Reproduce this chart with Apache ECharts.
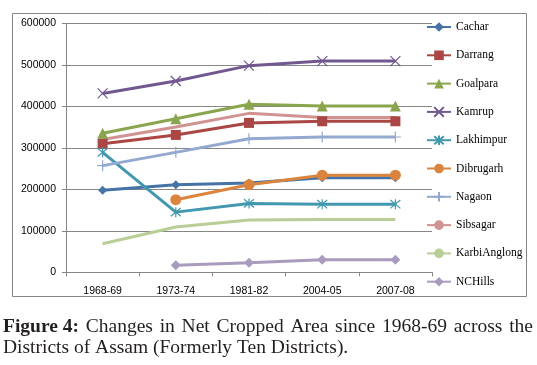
<!DOCTYPE html>
<html>
<head>
<meta charset="utf-8">
<script src="https://cdn.jsdelivr.net/npm/echarts@6/dist/echarts.min.js"></script>
<style>
html,body{margin:0;padding:0;background:#fff;}
#chart{width:537px;height:365px;}
</style>
</head>
<body>
<div id="chart"></div>
<script>
// ---- Data ----
var categories = ['1968-69', '1973-74', '1981-82', '2004-05', '2007-08'];
var yTicks = [0, 100000, 200000, 300000, 400000, 500000, 600000];

var cachar       = [198000, 211000, 215000, 228000, 228000];
var darrang      = [310000, 331000, 360000, 364000, 364000];
var goalpara     = [335000, 370000, 405000, 401000, 401000];
var kamrup       = [431000, 461000, 498000, 509000, 509000];
var lakhimpur    = [289000, 145000, 166000, 164000, 164000];
var dibrugarh    = [null, 175000, 211000, 234000, 234000];
var nagaon       = [257000, 289000, 322000, 326000, 326000];
var sibsagar     = [320000, 350000, 383000, 373000, 373000];
var karbiAnglong = [69000, 109000, 126000, 127000, 127000];
var ncHills      = [null, 17000, 23000, 30000, 30000];

var seriesNames = ['Cachar', 'Darrang', 'Goalpara', 'Kamrup', 'Lakhimpur', 'Dibrugarh', 'Nagaon', 'Sibsagar', 'KarbiAnglong', 'NCHills'];
var seriesData = [cachar, darrang, goalpara, kamrup, lakhimpur, dibrugarh, nagaon, sibsagar, karbiAnglong, ncHills];

var captionLine1 = ['Figure 4:', 'Changes', 'in', 'Net', 'Cropped', 'Area', 'since', '1968-69', 'across', 'the'];
var captionLine2 = 'Districts of Assam (Formerly Ten Districts).';

// ---- Styles ----
var colors = ['#4572A7', '#AA4643', '#89A54E', '#71588F', '#4198AF', '#DB843D', '#93A9CF', '#D19392', '#B9CD96', '#A99BBD'];
var PATH_X = 'path://M0 0L10 10M10 0L0 10';
var PATH_AST = 'path://M0 0L10 10M10 0L0 10M5 -1L5 11';
var PATH_PLUS = 'path://M5 0L5 10M0 5L10 5';
var symbols = [
  {symbol: 'diamond', size: 9},
  {symbol: 'rect', size: 10},
  {symbol: 'triangle', size: 11},
  {symbol: PATH_X, size: 10, stroke: true},
  {symbol: PATH_AST, size: 10, stroke: true},
  {symbol: 'circle', size: 11},
  {symbol: PATH_PLUS, size: 11, stroke: true},
  {symbol: 'none', size: 0},
  {symbol: 'none', size: 0},
  {symbol: 'diamond', size: 10}
];

var series = seriesNames.map(function (name, i) {
  var s = symbols[i];
  return {
    name: name,
    type: 'line',
    data: seriesData[i],
    symbol: s.symbol,
    symbolSize: s.size,
    showSymbol: s.symbol !== 'none',
    connectNulls: false,
    lineStyle: {color: colors[i], width: 3},
    itemStyle: s.stroke
      ? {color: colors[i], borderColor: colors[i], borderWidth: 1.2}
      : {color: colors[i], borderWidth: 0},
    emphasis: {disabled: true}
  };
});

// ---- Caption layout (justified first line) ----
var capFontSize = 19.5;
var capFamily = 'Liberation Serif';
var ctx = document.createElement('canvas').getContext('2d');
function fontStr(bold) {
  return (bold ? 'bold ' : '') + capFontSize + 'px "' + capFamily + '"';
}
function measure(text, bold) {
  ctx.font = fontStr(bold);
  return ctx.measureText(text).width;
}
var capLeft = 3, capRight = 533;
var widths = captionLine1.map(function (w, i) { return measure(w, i === 0); });
var totalW = widths.reduce(function (a, b) { return a + b; }, 0);
var gap = Math.max(measure(' ', false), (capRight - capLeft - totalW) / (captionLine1.length - 1));
var graphics = [];
var cx = capLeft;
captionLine1.forEach(function (w, i) {
  graphics.push({
    type: 'text',
    x: cx, y: 327,
    style: {text: w, fill: '#231f20', font: fontStr(i === 0), verticalAlign: 'middle', align: 'left'}
  });
  cx += widths[i] + gap;
});
graphics.push({
  type: 'text', x: capLeft, y: 348,
  style: {text: captionLine2, fill: '#231f20', font: fontStr(false), verticalAlign: 'middle', align: 'left'}
});
// chart frame
graphics.push({
  type: 'rect', z: -1,
  shape: {x: 12.5, y: 13.5, width: 514, height: 283},
  style: {fill: 'none', stroke: '#868686', lineWidth: 1}
});

var chart = echarts.init(document.getElementById('chart'), null, {renderer: 'canvas'});
chart.setOption({
  animation: false,
  backgroundColor: '#fff',
  color: colors,
  grid: {left: 66, right: 105, top: 23.3, bottom: 92.7, containLabel: false},
  xAxis: {
    type: 'category',
    data: categories,
    boundaryGap: true,
    axisLine: {show: true, lineStyle: {color: '#868686', width: 1}},
    axisTick: {show: true, length: 4, alignWithLabel: false, lineStyle: {color: '#868686'}},
    axisLabel: {color: '#000', fontFamily: 'Liberation Sans', fontSize: 10.5, margin: 13, interval: 0},
    splitLine: {show: false}
  },
  yAxis: {
    type: 'value',
    min: yTicks[0],
    max: yTicks[yTicks.length - 1],
    interval: yTicks[1] - yTicks[0],
    axisLine: {show: true, lineStyle: {color: '#868686', width: 1}},
    axisTick: {show: true, length: 4, lineStyle: {color: '#868686'}},
    axisLabel: {
      color: '#000', fontFamily: 'Liberation Sans', fontSize: 10.5, margin: 10,
      formatter: function (v) { return String(v); }
    },
    splitLine: {show: true, lineStyle: {color: '#868686', width: 1}}
  },
  legend: {
    orient: 'vertical',
    left: 426,
    top: 21,
    itemWidth: 24,
    itemHeight: 12,
    itemGap: 16.3,
    padding: 0,
    textStyle: {color: '#000', fontFamily: 'Liberation Serif', fontSize: 11.5},
    data: seriesNames
  },
  graphic: graphics,
  series: series
});
</script>
</body>
</html>
